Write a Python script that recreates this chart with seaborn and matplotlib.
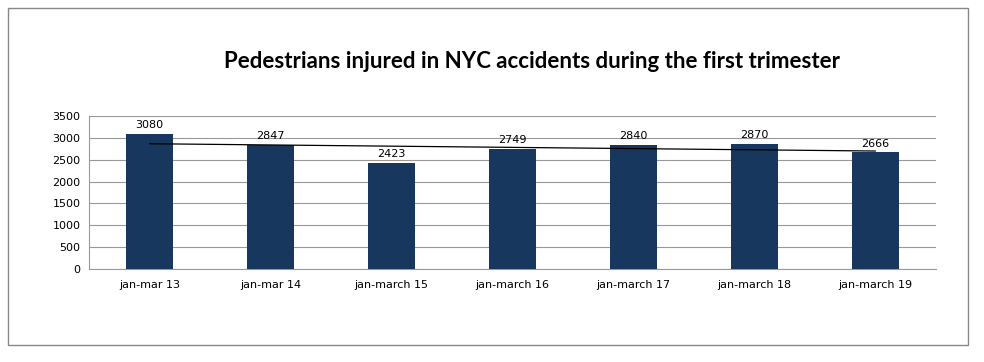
import numpy as np
import pandas as pd
import seaborn as sns
from matplotlib import pyplot as plt
from matplotlib.patches import Rectangle

sns.set_style("white")
plt.rcParams['font.family'] = ['DejaVu Sans']

periods = ['jan-mar 13', 'jan-mar 14', 'jan-march 15', 'jan-march 16',
           'jan-march 17', 'jan-march 18', 'jan-march 19']
injured = [3080, 2847, 2423, 2749, 2840, 2870, 2666]

df = pd.DataFrame({'period': periods, 'injured': injured})

fig = plt.figure(figsize=(9.84, 3.62), dpi=100)
# outer chart frame
fig.patches.append(Rectangle((8/984, 17/362), 960/984, 337/362, transform=fig.transFigure,
                             fill=False, edgecolor='#888888', linewidth=1.0))
ax = fig.add_axes([89/984, 93/362, 847/984, 153/362])

sns.barplot(data=df, x='period', y='injured', color='#17375E', width=0.39,
            saturation=1, linewidth=0, ax=ax, zorder=3)

# linear trendline
x = np.arange(len(injured))
k, b = np.polyfit(x, injured, 1)
ax.plot(x, k*x + b, color='black', linewidth=0.9, zorder=4)

for i, v in enumerate(injured):
    ax.text(i, v + 90, str(v), ha='center', va='bottom', fontsize=8, color='black')

ax.set_ylim(0, 3500)
ax.set_yticks(range(0, 3501, 500))
ax.set_xlim(-0.5, len(periods) - 0.5)
ax.yaxis.grid(True, color='#999999', linewidth=0.8, zorder=0)
ax.set_axisbelow(True)
for s in ['top', 'right']:
    ax.spines[s].set_visible(False)
ax.spines['left'].set_color('#999999')
ax.spines['bottom'].set_color('#999999')
ax.set_xlabel('')
ax.set_ylabel('')
ax.tick_params(axis='both', labelsize=8, colors='black', length=0, pad=8)
ax.tick_params(axis='y', pad=6)

fig.text(532/984, 1 - 62/362, 'Pedestrians injured in NYC accidents during the first trimester',
         ha='center', va='center', fontsize=16, fontweight='bold', color='black',
         family=['Lato', 'DejaVu Sans'])

plt.savefig('out.png', dpi=100)
